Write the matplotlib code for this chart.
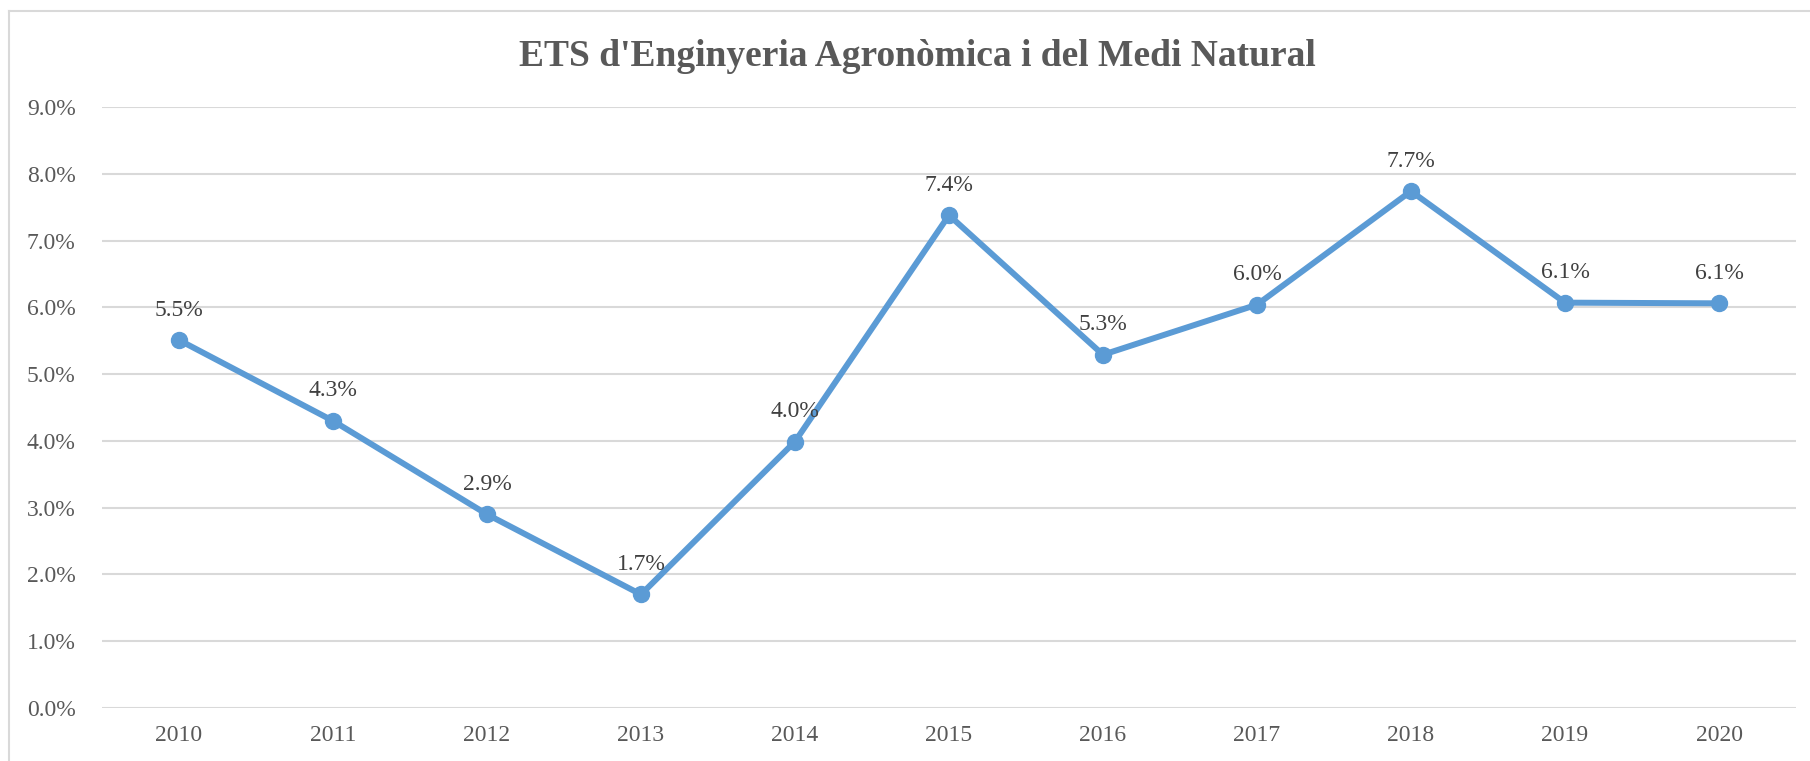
import numpy as np
import matplotlib
matplotlib.use("Agg")
import matplotlib.pyplot as plt
from matplotlib.ticker import FuncFormatter
from matplotlib.lines import Line2D

# --- data ---
years = ["2010", "2011", "2012", "2013", "2014", "2015",
         "2016", "2017", "2018", "2019", "2020"]
rates = [5.51, 4.30, 2.90, 1.70, 3.99, 7.38, 5.29, 6.04, 7.74, 6.07, 6.06]
title = "ETS d'Enginyeria Agronòmica i del Medi Natural"

line_color = "#5B9BD5"
grid_color = "#D9D9D9"
text_color = "#595959"
label_color = "#404040"

plt.rcParams["font.family"] = ["Liberation Serif", "DejaVu Serif"]

W, H = 1810, 761
fig = plt.figure(figsize=(W / 100, H / 100), dpi=100)
ax = fig.add_axes([102 / W, 1 - 708 / H, (1796 - 102) / W, (708 - 107) / H])

x = np.arange(len(years))
ax.plot(x, rates, color=line_color, lw=4.3, marker="o", ms=11.5,
        solid_capstyle="round", zorder=3)

for xi, v in zip(x, rates):
    ax.annotate(f"{v:.1f}%", (xi, v), xytext=(0, 14), textcoords="offset points",
                ha="center", va="bottom", fontsize=17, color=label_color)

ax.set_xlim(-0.5, len(years) - 0.5)
ax.set_ylim(0, 9)
ax.set_yticks(np.arange(0, 10, 1))
ax.yaxis.set_major_formatter(FuncFormatter(lambda v, p: f"{v:.1f}%"))
ax.set_xticks(x)
ax.set_xticklabels(years)

ax.grid(axis="y", color=grid_color, lw=1.5)
ax.set_axisbelow(True)
for s in ax.spines.values():
    s.set_visible(False)
ax.tick_params(axis="both", length=0, labelsize=17, colors=text_color)
ax.tick_params(axis="y", pad=19)
ax.tick_params(axis="x", pad=12)

fig.text(917 / W, 1 - 56 / H, title, ha="center", va="center",
         fontsize=27, fontweight="bold", color=text_color)

# chart frame (only left and top edges fall inside the picture)
fig.add_artist(Line2D([9 / W, 9 / W], [0, 1 - 11 / H], transform=fig.transFigure,
                      color=grid_color, lw=1.5))
fig.add_artist(Line2D([9 / W, 1], [1 - 11 / H, 1 - 11 / H], transform=fig.transFigure,
                      color=grid_color, lw=1.5))

fig.savefig("out.png", dpi=100)
